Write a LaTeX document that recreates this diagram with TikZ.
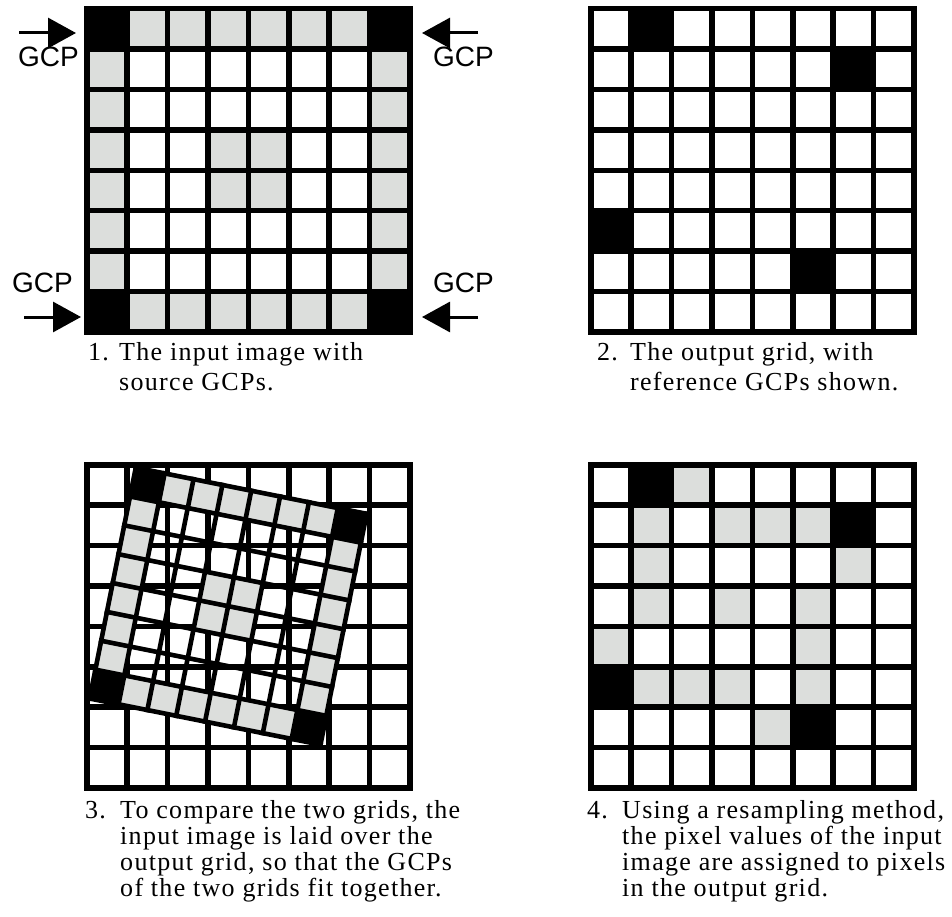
\documentclass[tikz,border=0pt]{standalone}
\usepackage{fontspec}
\setmainfont{Liberation Serif}
\newfontfamily\gcpfont{Liberation Sans}
\newfontfamily\capfont[LetterSpace=5]{Liberation Serif}
\usetikzlibrary{arrows.meta}
\definecolor{ink}{HTML}{000000}
\definecolor{shade}{HTML}{DCDEDC}
\newcommand{\cellsize}{40.4}
\newcommand{\gridlines}[1][gridline]{%
  \foreach \i in {0,...,8} {
    \draw[#1] (\i*\cellsize,0) -- (\i*\cellsize,8*\cellsize);
    \draw[#1] (0,\i*\cellsize) -- (8*\cellsize,\i*\cellsize);
  }}
\tikzset{
  gridline/.style={draw=ink,line width=5.5pt,line cap=rect},
  overline/.style={draw=ink,line width=4.6pt,line cap=rect},
  gcpcell/.style={fill=ink},
  graycell/.style={fill=shade},
  gcparrow/.style={draw=ink,line width=3pt,-{Triangle[length=28pt,width=30pt]}},
  gcplabel/.style={font=\gcpfont\fontsize{28}{28}\selectfont,text=ink,inner sep=0pt,anchor=north west},
  caption/.style={font=\capfont\fontsize{26}{30}\selectfont,text=ink,inner sep=0pt,anchor=base west},
  longcaption/.style={caption,font=\capfont\fontsize{26}{26}\selectfont},
}

\begin{document}
\begin{tikzpicture}[x=1pt,y=-1pt]
  \useasboundingbox (0,0) rectangle (952,917);

  \begin{scope}[shift={(86.75,8.75)}]
    \foreach \k in {1,...,6} {
      \fill[graycell] (\k*\cellsize,0) rectangle ++(\cellsize,\cellsize);
      \fill[graycell] (\k*\cellsize,7*\cellsize) rectangle ++(\cellsize,\cellsize);
      \fill[graycell] (0,\k*\cellsize) rectangle ++(\cellsize,\cellsize);
      \fill[graycell] (7*\cellsize,\k*\cellsize) rectangle ++(\cellsize,\cellsize);
    }
    \foreach \c/\r in {3/3,4/3,3/4,4/4}
      \fill[graycell] (\c*\cellsize,\r*\cellsize) rectangle ++(\cellsize,\cellsize);
    \foreach \c/\r in {0/0,7/0,0/7,7/7}
      \fill[gcpcell] (\c*\cellsize,\r*\cellsize) rectangle ++(\cellsize,\cellsize);
    \gridlines
  \end{scope}

  \coordinate (tltail) at (19,33);   \coordinate (tltip) at (76,33);
  \coordinate (bltail) at (24,317);  \coordinate (bltip) at (81,317);
  \coordinate (trtail) at (478,33);  \coordinate (trtip) at (422,33);
  \coordinate (brtail) at (478,317); \coordinate (brtip) at (422,317);
  \draw[gcparrow] (tltail) -- (tltip);
  \draw[gcparrow] (bltail) -- (bltip);
  \draw[gcparrow] (trtail) -- (trtip);
  \draw[gcparrow] (brtail) -- (brtip);
  \node[gcplabel] (tlgcp) at (18,47) {GCP};
  \node[gcplabel] (blgcp) at (12,273) {GCP};
  \node[gcplabel] (trgcp) at (433,47) {GCP};
  \node[gcplabel] (brgcp) at (433,273) {GCP};

  \begin{scope}[shift={(590.75,8.75)}]
    \foreach \c/\r in {1/0,6/1,0/5,5/6}
      \fill[gcpcell] (\c*\cellsize,\r*\cellsize) rectangle ++(\cellsize,\cellsize);
    \gridlines
  \end{scope}

  \begin{scope}[shift={(86.75,464.75)}]
    \gridlines
  \end{scope}
  \begin{scope}[shift={(135.81,467.64)},rotate=-11.31,scale=0.72843]
    \foreach \k in {1,...,6} {
      \fill[graycell] (\k*\cellsize,0) rectangle ++(\cellsize,\cellsize);
      \fill[graycell] (\k*\cellsize,7*\cellsize) rectangle ++(\cellsize,\cellsize);
      \fill[graycell] (0,\k*\cellsize) rectangle ++(\cellsize,\cellsize);
      \fill[graycell] (7*\cellsize,\k*\cellsize) rectangle ++(\cellsize,\cellsize);
    }
    \foreach \c/\r in {3/3,4/3,3/4,4/4}
      \fill[graycell] (\c*\cellsize,\r*\cellsize) rectangle ++(\cellsize,\cellsize);
    \foreach \c/\r in {0/0,7/0,0/7,7/7}
      \fill[gcpcell] (\c*\cellsize,\r*\cellsize) rectangle ++(\cellsize,\cellsize);
    \gridlines[overline]
  \end{scope}

  \begin{scope}[shift={(590.75,464.75)}]
    \foreach \c/\r in {2/0,1/1,3/1,4/1,5/1,1/2,6/2,1/3,3/3,5/3,0/4,5/4,1/5,2/5,3/5,5/5,4/6}
      \fill[graycell] (\c*\cellsize,\r*\cellsize) rectangle ++(\cellsize,\cellsize);
    \foreach \c/\r in {1/0,6/1,0/5,5/6}
      \fill[gcpcell] (\c*\cellsize,\r*\cellsize) rectangle ++(\cellsize,\cellsize);
    \gridlines
  \end{scope}

  \node[caption] (cap1) at (88,360) {\begin{tabular}[t]{@{}p{31pt}@{}l@{}}
    1. & The input image with\\ & source GCPs.\end{tabular}};
  \node[caption] (cap2) at (597,360) {\begin{tabular}[t]{@{}p{33pt}@{}l@{}}
    2. & The output grid, with\\ & reference GCPs shown.\end{tabular}};
  \node[longcaption] (cap3) at (85,818) {\begin{tabular}[t]{@{}p{35pt}@{}l@{}}
    3. & To compare the two grids, the\\ & input image is laid over the\\
       & output grid, so that the GCPs\\ & of the two grids fit together.\end{tabular}};
  \node[longcaption] (cap4) at (587,818) {\begin{tabular}[t]{@{}p{35pt}@{}l@{}}
    4. & Using a resampling method,\\ & the pixel values of the input\\
       & image are assigned to pixels\\ & in the output grid.\end{tabular}};
\end{tikzpicture}
\end{document}
